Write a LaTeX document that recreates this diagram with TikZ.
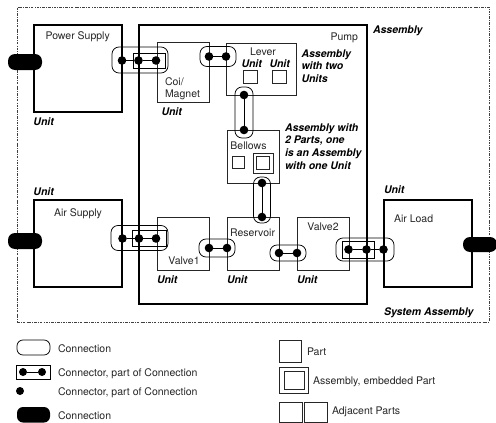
\documentclass[tikz,border=0pt]{standalone}
\usepackage{fontspec}
\setmainfont{TeX Gyre Heros}
\begin{document}
\begin{tikzpicture}[x=1pt,y=-1pt]
\tikzset{
  sysbox/.style={draw=black!75, line width=0.6pt, dash pattern=on 2.6pt off 1.2pt on 0.7pt off 1.2pt, inner sep=0pt, outer sep=0pt, anchor=north west},
  unitbox/.style={draw, line width=1.25pt, inner sep=0pt, outer sep=0pt, anchor=north west},
  partbox/.style={draw=black!85, line width=0.75pt, inner sep=0pt, outer sep=0pt, anchor=north west},
  conn/.style={draw, line width=0.75pt, rounded corners=7pt, inner sep=0pt, outer sep=0pt, anchor=north west},
  cport/.style={draw, line width=0.75pt, inner sep=0pt, outer sep=0pt, anchor=north west},
  cdot/.style={circle, fill, inner sep=0pt, outer sep=0pt, minimum size=8.6pt},
  wire/.style={line width=1pt},
  bpill/.style={fill, rounded corners=7pt, inner sep=0pt, outer sep=0pt, anchor=north west},
  lbl/.style={font=\fontsize{10.5}{12.5}\selectfont, text=black!85, inner sep=0pt, outer sep=0pt},
  ital/.style={font=\fontsize{10.5}{12.5}\selectfont\bfseries\itshape, inner sep=0pt, outer sep=0pt},
}
\path[use as bounding box] (0,0) rectangle (496,423);

% system assembly
\node[sysbox, minimum width=472pt, minimum height=315pt] (sys) at (17,7) {};

% units outside the pump
\node[unitbox, minimum width=88pt, minimum height=87pt] (ps) at (34,25) {};
\node[unitbox, minimum width=88pt, minimum height=87pt] (as) at (34,200) {};
\node[unitbox, minimum width=88pt, minimum height=87pt] (al) at (384,200) {};
% pump
\node[unitbox, minimum width=228pt, minimum height=279pt] (pump) at (139,25) {};

% parts inside the pump
\node[partbox, minimum width=52pt, minimum height=60pt] (coil) at (157,42) {};
\node[partbox, minimum width=70pt, minimum height=52pt] (lever) at (226,43) {};
\node[partbox, minimum width=14pt, minimum height=13pt] (lu1) at (243,70) {};
\node[partbox, minimum width=14pt, minimum height=13pt] (lu2) at (272,70) {};
\node[partbox, minimum width=52pt, minimum height=53pt] (bellows) at (227,130) {};
\node[partbox, minimum width=12pt, minimum height=12pt] (bu1) at (232,156) {};
\node[partbox, minimum width=20pt, minimum height=20pt] (bu2) at (253,153) {};
\node[partbox, minimum width=13pt, minimum height=13pt] (bu2i) at (256.5,156.5) {};
\node[partbox, minimum width=52pt, minimum height=53pt] (valve1) at (157,217) {};
\node[partbox, minimum width=52pt, minimum height=53pt] (res) at (227,217) {};
\node[partbox, minimum width=52pt, minimum height=53pt] (valve2) at (297,217) {};

% black connections at the system border
\node[bpill, minimum width=34pt, minimum height=16pt] (pl1) at (8,54) {};
\node[bpill, minimum width=34pt, minimum height=16pt] (pl2) at (8,233) {};
\node[bpill, minimum width=34pt, minimum height=15pt] (pl3) at (463,237) {};

% connections (rounded)
\node[conn, minimum width=56pt, minimum height=26pt] (c1) at (112,47) {};
\node[conn, minimum width=57pt, minimum height=25pt] (c2) at (111,225.5) {};
\node[conn, minimum width=58pt, minimum height=23pt] (c3) at (336,238) {};
\node[conn, minimum width=36pt, minimum height=20pt] (c4) at (200,46.5) {};
\node[conn, minimum width=18pt, minimum height=51pt] (c5) at (235,87) {};
\node[conn, minimum width=17pt, minimum height=46pt] (c6) at (253.5,177) {};
\node[conn, minimum width=36pt, minimum height=18pt] (c7) at (199,239) {};
\node[conn, minimum width=36pt, minimum height=16pt] (c8) at (270,245) {};

% boxed connectors
\node[cport, minimum width=32pt, minimum height=15pt] (p1) at (133,53) {};
\node[cport, minimum width=34pt, minimum height=16pt] (p2) at (132,230.5) {};
\node[cport, minimum width=32pt, minimum height=17pt] (p3) at (342,241) {};

% dots
\node[cdot] (a1) at (122,60.5) {};
\node[cdot] (a2) at (138.5,60.5) {};
\node[cdot] (a3) at (156,60.5) {};
\node[cdot] (b1) at (122.5,238.5) {};
\node[cdot] (b2) at (139,238.5) {};
\node[cdot] (b3) at (156,238.5) {};
\node[cdot] (e1) at (348.5,249.5) {};
\node[cdot] (e2) at (366.5,249.5) {};
\node[cdot] (e3) at (383.5,249.5) {};
\node[cdot] (f1) at (209,56.5) {};
\node[cdot] (f2) at (226,56.5) {};
\node[cdot] (g1) at (244,95) {};
\node[cdot] (g2) at (244,130) {};
\node[cdot] (h1) at (262,183) {};
\node[cdot] (h2) at (262,217) {};
\node[cdot] (i1) at (209,248) {};
\node[cdot] (i2) at (227,248) {};
\node[cdot] (j1) at (279,253) {};
\node[cdot] (j2) at (297,253) {};

\draw[wire] (a1) -- (a2) -- (a3);
\draw[wire] (b1) -- (b2) -- (b3);
\draw[wire] (e1) -- (e2) -- (e3);
\draw[wire] (f1) -- (f2);
\draw[wire] (g1) -- (g2);
\draw[wire] (h1) -- (h2);
\draw[wire] (i1) -- (i2);
\draw[wire] (j1) -- (j2);

% labels
\node[lbl, anchor=base west] (tps) at (45.5,39.3) {Power Supply};
\node[lbl, anchor=base east] (tpump) at (358,40.5) {Pump};
\node[ital, anchor=base west] (tasm) at (373,33.5) {Assembly};
\node[lbl, anchor=base west] (tcoil1) at (165,85.5) {Coi/};
\node[lbl, anchor=base west] (tcoil2) at (165,97.5) {Magnet};
\node[ital, anchor=base west] (ucoil) at (161.5,115.5) {Unit};
\node[ital, anchor=base west] (ups) at (33.5,125.5) {Unit};
\node[lbl, anchor=base] (tlever) at (263,55.5) {Lever};
\node[ital, anchor=base west] (ul1) at (241.5,67) {Unit};
\node[ital, anchor=base west] (ul2) at (269.5,67) {Unit};
\node[ital, anchor=base west] (n1a) at (301.5,57) {Assembly};
\node[ital, anchor=base west] (n1b) at (301.5,69.5) {with two};
\node[ital, anchor=base west] (n1c) at (301.5,82) {Units};
\node[ital, anchor=base west] (n2a) at (285,131) {Assembly with};
\node[ital, anchor=base west] (n2b) at (285,143.8) {2 Parts, one};
\node[ital, anchor=base west] (n2c) at (285,156.6) {is an Assembly};
\node[ital, anchor=base west] (n2d) at (285,169.4) {with one Unit};
\node[lbl, anchor=base] (tbel) at (248.5,149) {Bellows};
\node[lbl, anchor=base] (tres) at (252.5,236) {Reservoir};
\node[lbl, anchor=base] (tv1) at (184,264.5) {Valve1};
\node[lbl, anchor=base] (tv2) at (323,230.5) {Valve2};
\node[ital, anchor=base west] (uv1) at (157,283) {Unit};
\node[ital, anchor=base west] (ures) at (227,283) {Unit};
\node[ital, anchor=base west] (uv2) at (297,283) {Unit};
\node[lbl, anchor=base] (tas) at (78,216) {Air Supply};
\node[ital, anchor=base west] (uas) at (33.5,195) {Unit};
\node[lbl, anchor=base west] (tal) at (394,222) {Air Load};
\node[ital, anchor=base west] (ual) at (384,193) {Unit};
\node[ital, anchor=base east] (tsys) at (473.5,315.5) {System Assembly};

% legend, left
\node[conn, rounded corners=6pt, minimum width=33pt, minimum height=15pt] (lg1) at (17,340) {};
\node[lbl, anchor=base west] (lt1) at (58,352) {Connection};
\node[cport, minimum width=34pt, minimum height=14pt] (lg2) at (16,365) {};
\node[cdot, minimum size=8pt] (lgd1) at (23,372) {};
\node[cdot, minimum size=8pt] (lgd2) at (42,372) {};
\draw[wire] (lgd1) -- (lgd2);
\node[lbl, anchor=base west] (lt2) at (58,376) {Connector, part of Connection};
\node[cdot, minimum size=8pt] (lgd3) at (20,391) {};
\node[lbl, anchor=base west] (lt3) at (58,395) {Connector, part of Connection};
\node[bpill, rounded corners=6pt, minimum width=33pt, minimum height=15.5pt] (lg4) at (17,407) {};
\node[lbl, anchor=base west] (lt4) at (58,419) {Connection};

% legend, right
\node[partbox, minimum width=22.5pt, minimum height=22pt] (lr1) at (279,340) {};
\node[lbl, anchor=base west] (lr1t) at (307,355.5) {Part};
\node[partbox, minimum width=29pt, minimum height=26pt] (lr2) at (279,367) {};
\node[partbox, minimum width=20pt, minimum height=18pt] (lr2i) at (284,371.5) {};
\node[lbl, anchor=base west] (lr2t) at (313,384.5) {Assembly, embedded Part};
\node[partbox, minimum width=23pt, minimum height=20.5pt] (lr3a) at (279,402) {};
\node[partbox, minimum width=23pt, minimum height=20.5pt] (lr3b) at (304,402) {};
\node[lbl, anchor=base west] (lr3t) at (332,414) {Adjacent Parts};
\end{tikzpicture}
\end{document}
